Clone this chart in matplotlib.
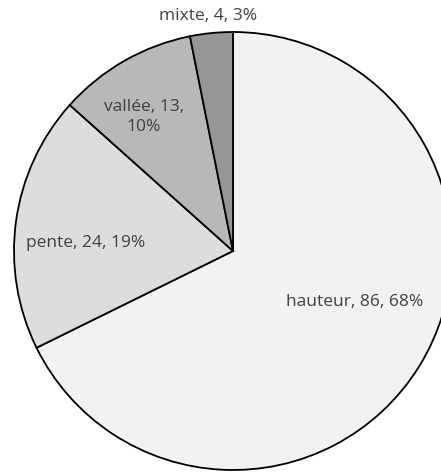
import numpy as np
import matplotlib
matplotlib.use("Agg")
import matplotlib.pyplot as plt

# --- data ---
categories = ["hauteur", "pente", "vallée", "mixte"]
counts = [86, 24, 13, 4]
colors = ["#f2f2f2", "#dddddd", "#b8b8b8", "#969696"]

W, H = 441, 472
fig = plt.figure(figsize=(W / 100, H / 100), dpi=100)
ax = fig.add_axes([0, 0, 1, 1])

# pie in pixel-like coordinates (y measured from the bottom)
cx, cy, r = 233, H - 251, 219
wedges, _ = ax.pie(counts, colors=colors, startangle=90, counterclock=False,
                   center=(cx, cy), radius=r,
                   wedgeprops=dict(edgecolor="black", linewidth=1.3))
ax.set_xlim(0, W)
ax.set_ylim(0, H)
ax.set_aspect("equal")
ax.axis("off")

total = sum(counts)
pcts = [round(100 * c / total) for c in counts]
labels = [f"{n}, {c}, {p}%" for n, c, p in zip(categories, counts, pcts)]
labels[2] = f"{categories[2]}, {counts[2]},\n{pcts[2]}%"

# label centres in pixels (from the top-left corner)
label_pos = [(355, 302), (86, 243), (144, 117), (208, 16)]
for lab, (px, py) in zip(labels, label_pos):
    ax.text(px, H - py, lab, ha="center", va="center", fontsize=12.5,
            family="Open Sans", color="#404040", linespacing=1.35)

fig.savefig("out.png", dpi=100)
